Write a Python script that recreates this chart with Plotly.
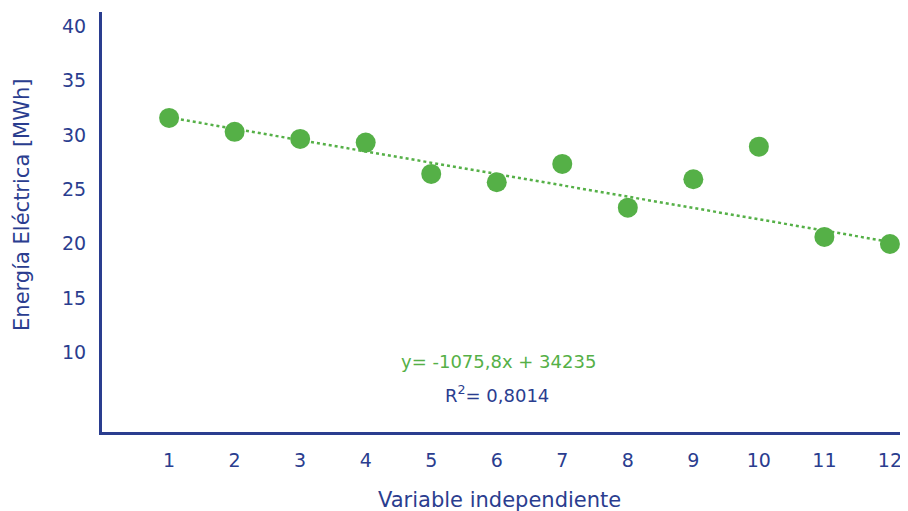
import plotly.graph_objects as go

x_vals = [1, 2, 3, 4, 5, 6, 7, 8, 9, 10, 11, 12]
energia = [31.56, 30.28, 29.63, 29.29, 26.41, 25.65, 27.33, 23.31, 25.92, 28.92, 20.62, 19.97]
trend_x = [1, 12]
trend_y = [31.6, 20.16]
y_ticks = [10, 15, 20, 25, 30, 35, 40]
eq_text = "y= -1075,8x + 34235"
r2_text = "R<sup>2</sup>= 0,8014"

BLUE = "#2a3d8f"
GREEN = "#55b047"
FONT = "DejaVu Sans"

fig = go.Figure()
fig.add_trace(go.Scatter(x=trend_x, y=trend_y, mode="lines",
                         line=dict(color=GREEN, width=2.5, dash="dot"),
                         hoverinfo="skip", showlegend=False))
fig.add_trace(go.Scatter(x=x_vals, y=energia, mode="markers",
                         marker=dict(color=GREEN, size=20, line=dict(width=0)),
                         showlegend=False))

fig.update_layout(
    width=900, height=503,
    margin=dict(l=94, r=3, t=4, b=79, autoexpand=False),
    paper_bgcolor="white", plot_bgcolor="white",
    font=dict(family=FONT, color=BLUE, size=19),
    xaxis=dict(range=[-0.024, 12.23], tickvals=x_vals, showgrid=False, zeroline=False,
               showline=True, linecolor=BLUE, linewidth=3, ticks="",
               ticklabelstandoff=9, ticklabeloverflow="allow",
               tickfont=dict(size=19, color=BLUE)),
    yaxis=dict(range=[2.68, 41.3], tickvals=y_ticks, showgrid=False, zeroline=False,
               showline=True, linecolor=BLUE, linewidth=3, ticks="",
               ticklabelstandoff=9, tickfont=dict(size=19, color=BLUE)),
    annotations=[
        dict(text="Variable independiente", xref="paper", yref="paper",
             x=0.495, y=-0.129, xanchor="center", yanchor="top", showarrow=False,
             font=dict(size=21, color=BLUE)),
        dict(text="Energía Eléctrica [MWh]", xref="paper", yref="paper",
             x=-0.1, y=0.54, xanchor="center", yanchor="middle", showarrow=False,
             textangle=-90, font=dict(size=21, color=BLUE)),
        dict(text=eq_text, xref="x", yref="y", x=6.03, y=9.12,
             xanchor="center", yanchor="middle", showarrow=False,
             font=dict(size=18, color=GREEN)),
        dict(text=r2_text, xref="x", yref="y", x=6.0, y=6.17,
             xanchor="center", yanchor="middle", showarrow=False,
             font=dict(size=18, color=BLUE)),
    ],
)

fig.write_html("out.html")
